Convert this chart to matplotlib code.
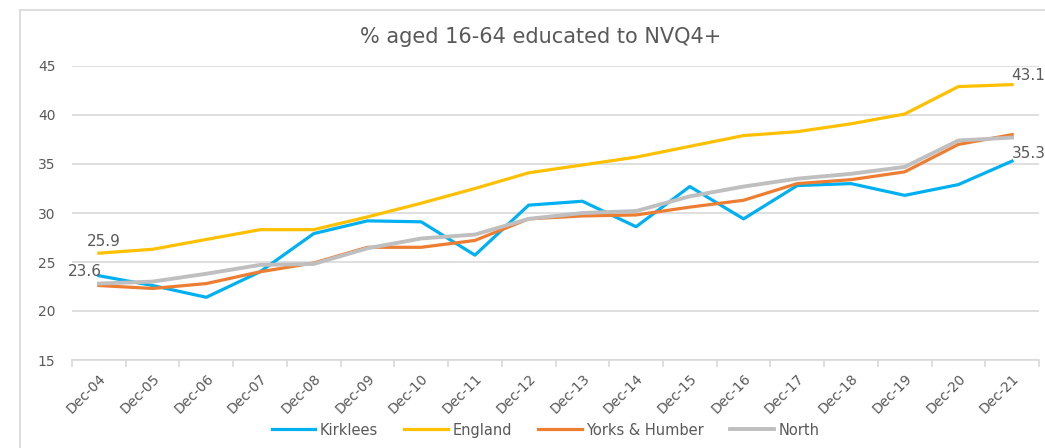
import matplotlib.pyplot as plt
from matplotlib.lines import Line2D
import numpy as np

plt.rcParams['font.family'] = ['DejaVu Sans']

years = ["Dec-04", "Dec-05", "Dec-06", "Dec-07", "Dec-08", "Dec-09", "Dec-10", "Dec-11", "Dec-12",
         "Dec-13", "Dec-14", "Dec-15", "Dec-16", "Dec-17", "Dec-18", "Dec-19", "Dec-20", "Dec-21"]

kirklees = [23.6, 22.6, 21.4, 24.0, 27.9, 29.2, 29.1, 25.7, 30.8,
            31.2, 28.6, 32.7, 29.4, 32.8, 33.0, 31.8, 32.9, 35.3]
england = [25.9, 26.3, 27.3, 28.3, 28.3, 29.6, 31.0, 32.5, 34.1,
           34.9, 35.7, 36.8, 37.9, 38.3, 39.1, 40.1, 42.9, 43.1]
yorks = [22.6, 22.3, 22.8, 24.0, 24.9, 26.5, 26.5, 27.2, 29.4,
         29.7, 29.8, 30.6, 31.3, 33.0, 33.4, 34.2, 37.0, 38.0]
north = [22.8, 23.0, 23.8, 24.7, 24.8, 26.4, 27.4, 27.8, 29.4,
         30.0, 30.2, 31.7, 32.7, 33.5, 34.0, 34.7, 37.4, 37.7]

TXT = '#595959'
GRID = '#D9D9D9'

fig = plt.figure(figsize=(10.45, 4.48), dpi=100)
ax = fig.add_axes([72/1045, 1 - 360/448, (1039 - 72)/1045, (360 - 66)/448])

x = np.arange(len(years))
ax.plot(x, kirklees, color='#00B0F0', linewidth=2.3, label='Kirklees')
ax.plot(x, england, color='#FFC000', linewidth=2.3, label='England')
ax.plot(x, yorks, color='#ED7D31', linewidth=2.3, label='Yorks & Humber')
ax.plot(x, north, color='#BFBFBF', linewidth=2.8, label='North')

ax.set_xlim(-0.5, len(years) - 0.5)
ax.set_ylim(15, 45)
ax.set_yticks(np.arange(15, 46, 5))
ax.yaxis.grid(True, color=GRID, linewidth=1.2)
ax.set_axisbelow(True)
for s in ['left', 'right', 'top']:
    ax.spines[s].set_visible(False)
ax.spines['bottom'].set_color(GRID)
ax.spines['bottom'].set_linewidth(1.2)

ax.set_xticks(x)
ax.set_xticklabels(years, rotation=45, ha='right', rotation_mode='anchor')
ax.set_xticks(np.arange(-0.5, len(years), 1), minor=True)
ax.tick_params(axis='x', which='major', length=0, pad=8, labelsize=10, labelcolor=TXT)
ax.tick_params(axis='x', which='minor', length=5, color=GRID, width=1.2)
ax.tick_params(axis='y', length=0, pad=12, labelsize=10, labelcolor=TXT)

# data labels
ax.annotate("25.9", (0, england[0]), xytext=(5, 12), textcoords='offset pixels',
            ha='center', va='center', fontsize=11, color=TXT)
ax.annotate("23.6", (0, kirklees[0]), xytext=(-14, 4), textcoords='offset pixels',
            ha='center', va='center', fontsize=11, color=TXT)
ax.annotate("43.1", (17, england[-1]), xytext=(-1, 9), textcoords='offset pixels',
            ha='left', va='center', fontsize=11, color=TXT, annotation_clip=False)
ax.annotate("35.3", (17, kirklees[-1]), xytext=(0, 8), textcoords='offset pixels',
            ha='left', va='center', fontsize=11, color=TXT, annotation_clip=False)

fig.text(541/1045, 1 - 37/448, "% aged 16-64 educated to NVQ4+", ha='center', va='center',
         fontsize=15, color=TXT)

fig.legend(loc='center', bbox_to_anchor=(0.522, 1 - 430/448), ncol=4, frameon=False,
           fontsize=10.5, handlelength=3.0, handletextpad=0.3, columnspacing=1.8,
           labelcolor=TXT)

# chart area border (cut off at right and bottom)
fig.add_artist(Line2D([20/1045, 20/1045], [0, 1 - 10/448], transform=fig.transFigure,
                      color=GRID, linewidth=1.2))
fig.add_artist(Line2D([20/1045, 1], [1 - 10/448, 1 - 10/448], transform=fig.transFigure,
                      color=GRID, linewidth=1.2))

fig.savefig('out.png', dpi=100)
